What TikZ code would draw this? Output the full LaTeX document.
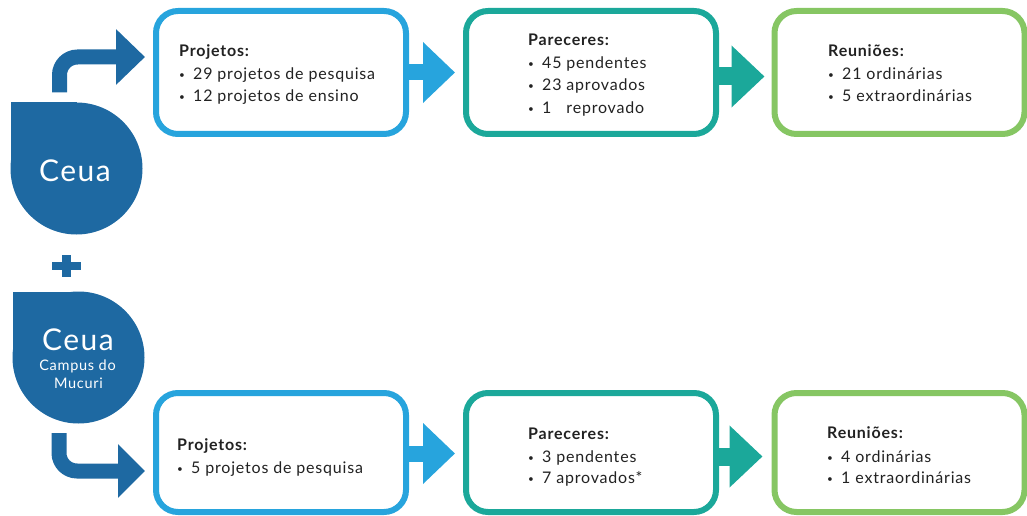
\documentclass[tikz,border=0pt]{standalone}
\usepackage{fontspec}
\setmainfont{Lato}
\newfontfamily\spaced[LetterSpace=5.0]{Lato}
\usetikzlibrary{arrows.meta}
\definecolor{cblue}{HTML}{27A4DD}
\definecolor{cteal}{HTML}{1BA89A}
\definecolor{cgreen}{HTML}{86C663}
\definecolor{cdark}{HTML}{1E69A2}
\definecolor{ctext}{HTML}{222222}
\newcommand{\bul}{\makebox[14pt][l]{\raisebox{1pt}{\fontsize{10}{10}\selectfont •}}}
\tikzset{
  box/.style={draw=#1, line width=6pt, rounded corners=22pt, fill=white,
    minimum width=250pt, minimum height=123pt, inner sep=0pt, outer sep=0pt},
  boxlow/.style={box=#1, minimum height=119pt},
  flat/.style={draw=#1, line width=16pt, -{Triangle[length=32pt,width=59pt]}},
  bent/.style={draw=cdark, line width=15pt, rounded corners=18pt,
    -{Triangle[length=29pt,width=54pt]}},
  head/.style={anchor=base west, inner sep=0pt, font=\spaced\fontsize{16}{18}\selectfont\bfseries, text=ctext},
  item/.style={anchor=base west, inner sep=0pt, font=\spaced\fontsize{16}{18}\selectfont, text=ctext},
  ceuatext/.style={anchor=base, inner sep=0pt, text=white},
}
\begin{document}
\begin{tikzpicture}[x=1pt,y=1pt]
\useasboundingbox (0,0) rectangle (1027,515);
% left drop shapes
\node[circle, fill=cdark, minimum size=132pt, inner sep=0pt, outer sep=0pt] (c1) at (76.5,346.5) {};
\fill[cdark] (c1.center) rectangle (c1.west |- c1.north);
\node[ceuatext, font=\spaced\fontsize{30}{32}\selectfont] (c1t) at (75,334) {Ceua};
\node[circle, fill=cdark, minimum size=132pt, inner sep=0pt, outer sep=0pt] (c2) at (78.5,157.5) {};
\fill[cdark] (c2.center) rectangle (c2.west |- c2.north);
\node[ceuatext, font=\spaced\fontsize{30}{32}\selectfont] (c2t) at (78,165) {Ceua};
\node[ceuatext, font=\spaced\fontsize{14.5}{15}\selectfont] (c2a) at (77.5,145) {Campus do};
\node[ceuatext, font=\spaced\fontsize{14.5}{15}\selectfont] (c2b) at (78.5,127) {Mucuri};
% plus
\fill[cdark] (52,245.5) rectangle (81,253);
\fill[cdark] (62,238) rectangle (71,260);
% boxes
\node[box=cblue] (a1) at (281,442.5) {};
\node[box=cteal] (a2) at (591,442.5) {};
\node[box=cgreen] (a3) at (899.5,442.5) {};
\node[boxlow=cblue] (b1) at (281,62.5) {};
\node[boxlow=cteal] (b2) at (591,62.5) {};
\node[boxlow=cgreen] (b3) at (899.5,62.5) {};
% straight arrows
\draw[flat=cblue] (a1.east) -- ([xshift=-11pt]a2.west);
\draw[flat=cteal, line width=18pt, -{Triangle[length=33pt,width=60pt]}] ([yshift=-4pt]a2.east) -- ([xshift=-10pt,yshift=-4pt]a3.west);
\draw[flat=cblue] ([yshift=-1pt]b1.east) -- ([xshift=-11pt,yshift=-1pt]b2.west);
\draw[flat=cteal, line width=18pt, -{Triangle[length=33pt,width=60pt]}] ([yshift=-4pt]b2.east) -- ([xshift=-12pt,yshift=-4pt]b3.west);
% bent arrows
\draw[bent] ([xshift=-17pt,yshift=10pt]c1.north) |- ([xshift=-11pt,yshift=15.5pt]a1.west);
\draw[bent, -{Triangle[length=27pt,width=52pt]}] ([xshift=-19.5pt,yshift=-9.5pt]c2.south) |- ([xshift=-11pt,yshift=-18.5pt]b1.west);
% texts top
\node[head] (t11) at (179,458) {Projetos:};
\node[item] (t12) at (179,435.5) {\bul 29 projetos de pesquisa};
\node[item] (t13) at (179,413) {\bul 12 projetos de ensino};
\node[head] (t21) at (528,469) {Pareceres:};
\node[item] (t22) at (528,446.5) {\bul 45 pendentes};
\node[item] (t23) at (528,424) {\bul 23 aprovados};
\node[item] (t24) at (528,401.5) {\bul \rlap{1}\phantom{45 }reprovado};
\node[head] (t31) at (828,458) {Reuniões:};
\node[item] (t32) at (828,435) {\bul 21 ordinárias};
\node[item] (t33) at (828,413) {\bul 5 extraordinárias};
% texts bottom
\node[head] (u11) at (177,65) {Projetos:};
\node[item] (u12) at (177,42) {\bul 5 projetos de pesquisa};
\node[head] (u21) at (528,76) {Pareceres:};
\node[item] (u22) at (528,53) {\bul 3 pendentes};
\node[item] (u23) at (528,32) {\bul 7 aprovados*};
\node[head] (u31) at (827,77) {Reuniões:};
\node[item] (u32) at (827,53) {\bul 4 ordinárias};
\node[item] (u33) at (827,32) {\bul 1 extraordinárias};
\end{tikzpicture}
\end{document}
